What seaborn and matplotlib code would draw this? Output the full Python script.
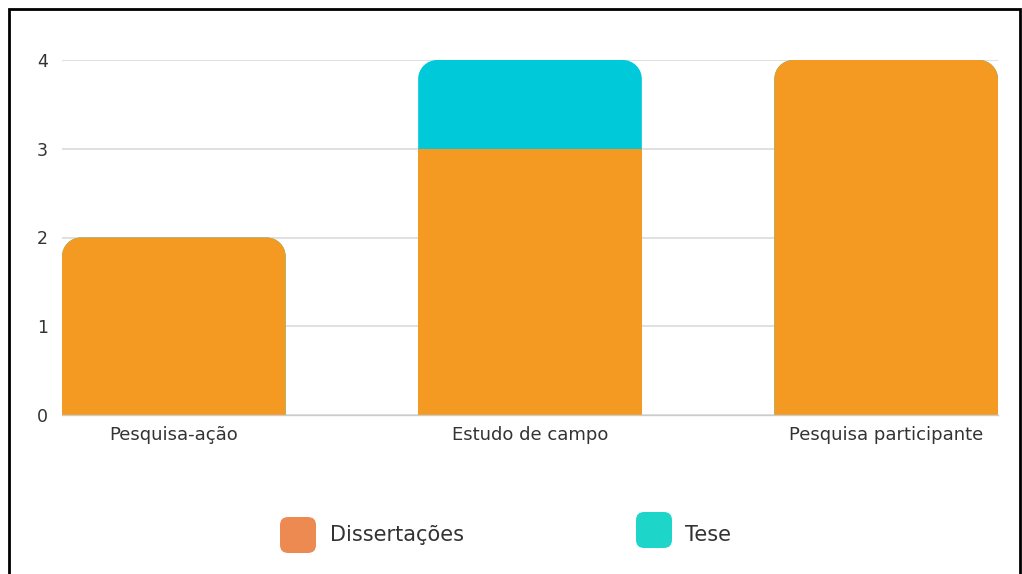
import numpy as np
import pandas as pd
import matplotlib
matplotlib.use("Agg")
import matplotlib.pyplot as plt
import seaborn as sns
from matplotlib.path import Path
from matplotlib.patches import PathPatch, FancyBboxPatch, Rectangle

categories = ["Pesquisa-ação", "Estudo de campo", "Pesquisa participante"]
dissertacoes = [2, 3, 4]
tese = [0, 1, 0]
y_ticks = [0, 1, 2, 3, 4]

bar_orange = "#F49A22"
bar_teal = "#00C9DA"
legend_orange = "#EC8A52"
legend_teal = "#1DD6C9"
text_color = "#333333"

sns.set_theme(style="white")
plt.rcParams["font.family"] = ["DejaVu Sans"]

W, H = 1022, 574
fig = plt.figure(figsize=(W / 100, H / 100), dpi=100)
ax = fig.add_axes([62 / W, 1 - 415 / H, (998 - 62) / W, (415 - 60) / H])

totals = [d + t for d, t in zip(dissertacoes, tese)]
df = pd.DataFrame({"cat": categories, "total": totals, "diss": dissertacoes})

sns.barplot(data=df, x="cat", y="total", color=bar_teal, width=0.628,
            saturation=1, ax=ax, linewidth=0)
sns.barplot(data=df, x="cat", y="diss", color=bar_orange, width=0.628,
            saturation=1, ax=ax, linewidth=0)

ax.set_xlim(-0.314, 2.314)
ax.set_ylim(0, 4)

# corner radius in pixels, converted to data units on each axis
r_px = 19
rx = r_px / ((998 - 62) / 2.628)
ry = r_px / ((415 - 60) / 4)
K = 0.5523


def top_rounded(x0, w, y0, h):
    x1, y1 = x0 + w, y0 + h
    verts = [
        (x0, y0), (x0, y1 - ry),
        (x0, y1 - ry + K * ry), (x0 + rx - K * rx, y1), (x0 + rx, y1),
        (x1 - rx, y1),
        (x1 - rx + K * rx, y1), (x1, y1 - ry + K * ry), (x1, y1 - ry),
        (x1, y0), (x0, y0),
    ]
    codes = [Path.MOVETO, Path.LINETO,
             Path.CURVE4, Path.CURVE4, Path.CURVE4,
             Path.LINETO,
             Path.CURVE4, Path.CURVE4, Path.CURVE4,
             Path.LINETO, Path.CLOSEPOLY]
    return Path(verts, codes)


teal_bars = list(ax.containers[0])
orange_bars = list(ax.containers[1])
for bars, heights, color in [(teal_bars, totals, bar_teal),
                             (orange_bars, dissertacoes, bar_orange)]:
    for patch, h, tot in zip(bars, heights, totals):
        x0, w = patch.get_x(), patch.get_width()
        y0 = patch.get_y()
        ph = patch.get_height()
        patch.set_visible(False)
        if ph <= 0:
            continue
        if abs(ph - tot) < 1e-9:
            path = top_rounded(x0, w, y0, ph)
        else:
            path = Path([(x0, y0), (x0, y0 + ph), (x0 + w, y0 + ph),
                         (x0 + w, y0), (x0, y0)],
                        [Path.MOVETO, Path.LINETO, Path.LINETO,
                         Path.LINETO, Path.CLOSEPOLY])
        ax.add_patch(PathPatch(path, facecolor=color, edgecolor="none",
                               zorder=3))

ax.set_yticks(y_ticks)
ax.yaxis.grid(True, color="#DADADA", linewidth=1.2, zorder=0)
ax.set_axisbelow(True)
for side in ["top", "right", "left"]:
    ax.spines[side].set_visible(False)
ax.spines["bottom"].set_color("#CCCCCC")
ax.spines["bottom"].set_linewidth(1.0)
ax.spines["bottom"].set_zorder(4)
ax.set_xlabel("")
ax.set_ylabel("")
ax.tick_params(axis="y", length=0, pad=10, labelsize=12.5, labelcolor=text_color)
ax.tick_params(axis="x", length=0, pad=8, labelsize=13, labelcolor=text_color)

# legend at the bottom with rounded swatches
leg_items = [(280, 517, legend_orange, "Dissertações", 330),
             (636, 512, legend_teal, "Tese", 685)]
for px, py, col, label, tx in leg_items:
    sw = FancyBboxPatch((px / W, 1 - (py + 36) / H), 36 / W, 36 / H,
                        boxstyle="round,pad=0,rounding_size=0.008",
                        transform=fig.transFigure, facecolor=col,
                        edgecolor="none", mutation_aspect=W / H)
    fig.patches.append(sw)
    fig.text(tx / W, 1 - 535 / H, label, fontsize=15, color=text_color,
             va="center", ha="left")

# outer frame
fig.patches.append(Rectangle((9 / W, -0.05), (1020 - 9) / W, 1 - 9 / H + 0.05,
                             transform=fig.transFigure, fill=False,
                             edgecolor="black", linewidth=2))

fig.savefig("out.png", dpi=100)
